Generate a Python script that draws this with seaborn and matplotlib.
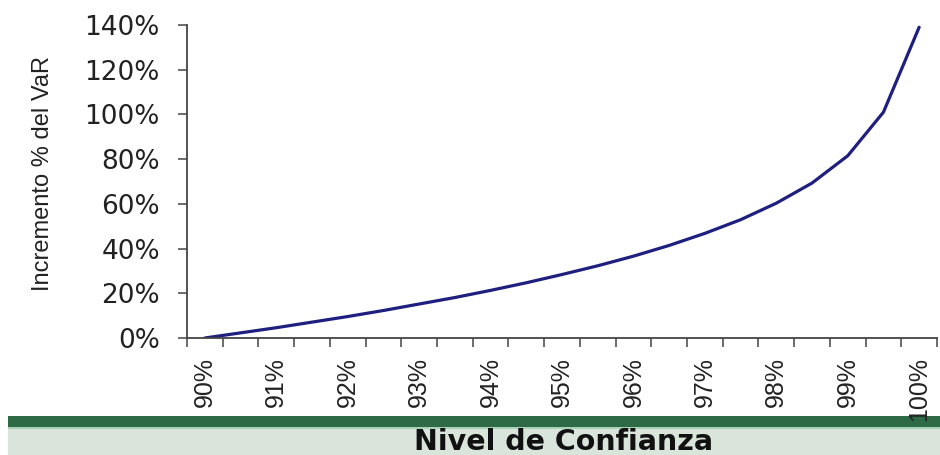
import matplotlib
matplotlib.use("Agg")
import matplotlib.pyplot as plt
from matplotlib.patches import Rectangle
from matplotlib.ticker import PercentFormatter, FixedLocator
import seaborn as sns
import pandas as pd

# Confidence levels (categories) and the percentage increase of VaR over the 90% level
levels = ["90", "90.5", "91", "91.5", "92", "92.5", "93", "93.5", "94", "94.5",
          "95", "95.5", "96", "96.5", "97", "97.5", "98", "98.5", "99", "99.5", "99.9"]
var_increase = [0.0, 0.023, 0.046, 0.071, 0.096, 0.123, 0.152, 0.181, 0.213, 0.247,
                0.284, 0.323, 0.366, 0.414, 0.468, 0.529, 0.603, 0.693, 0.815, 1.01, 1.39]
tick_labels = ["90%", "91%", "92%", "93%", "94%", "95%", "96%", "97%", "98%", "99%", "100%"]

sns.set_style("ticks")
plt.rcParams["font.family"] = ["Liberation Sans", "DejaVu Sans"]

df = pd.DataFrame({"nivel": levels, "incremento": var_increase})

fig = plt.figure(figsize=(9.4, 4.55), dpi=100)
ax = fig.add_axes([187 / 940, 117 / 455, 750 / 940, 313 / 455])
ax.set_facecolor("none")

sns.lineplot(data=df, x="nivel", y="incremento", ax=ax, color="#1f1f80",
             linewidth=2.3, sort=False)

axis_color = "#444444"
text_color = "#222222"

# y axis
ax.set_ylim(0, 1.4)
ax.yaxis.set_major_locator(FixedLocator([i * 0.2 for i in range(8)]))
ax.yaxis.set_major_formatter(PercentFormatter(xmax=1, decimals=0))
ax.tick_params(axis="y", direction="out", length=6.5, width=1.1, color=axis_color,
               pad=13, labelsize=19, labelcolor=text_color)
for lab in ax.get_yticklabels():
    lab.set_fontfamily("DejaVu Sans")

# x axis: tick marks between categories, labels on every other category
n = len(levels)
ax.set_xlim(-0.5, n - 0.5)
ax.set_xticks(list(range(0, n, 2)))
ax.set_xticklabels(tick_labels, rotation=90, fontsize=18, color=text_color)
ax.set_xticks([k - 0.5 for k in range(n + 1)], minor=True)
ax.tick_params(axis="x", which="major", length=0, pad=14)
ax.tick_params(axis="x", which="minor", direction="out", length=6.5, width=1.1,
               color=axis_color)
ax.set_xlabel("")

ax.set_ylabel("Incremento % del VaR", fontsize=17, color=text_color, va="center")
ax.yaxis.set_label_coords(-0.192, 0.527)

for side in ("top", "right"):
    ax.spines[side].set_visible(False)
for side in ("left", "bottom"):
    ax.spines[side].set_color(axis_color)
    ax.spines[side].set_linewidth(1.3)

# footer band with the axis title
H = 455.0
fig.add_artist(Rectangle((8 / 940, 1 - 427 / H), 1, 11 / H, transform=fig.transFigure,
                         facecolor="#2e6a46", edgecolor="none", zorder=-2))
fig.add_artist(Rectangle((8 / 940, 1 - 429 / H), 1, 2 / H, transform=fig.transFigure,
                         facecolor="#a9d3b6", edgecolor="none", zorder=-2))
fig.add_artist(Rectangle((8 / 940, 0), 1, 26 / H, transform=fig.transFigure,
                         facecolor="#d9e4db", edgecolor="none", zorder=-2))
fig.text(564 / 940, 5 / H, "Nivel de Confianza", ha="center", va="baseline",
         fontsize=20.5, fontweight="bold", family=["DejaVu Sans"], color="#111111")

fig.savefig("out.png", dpi=100)
